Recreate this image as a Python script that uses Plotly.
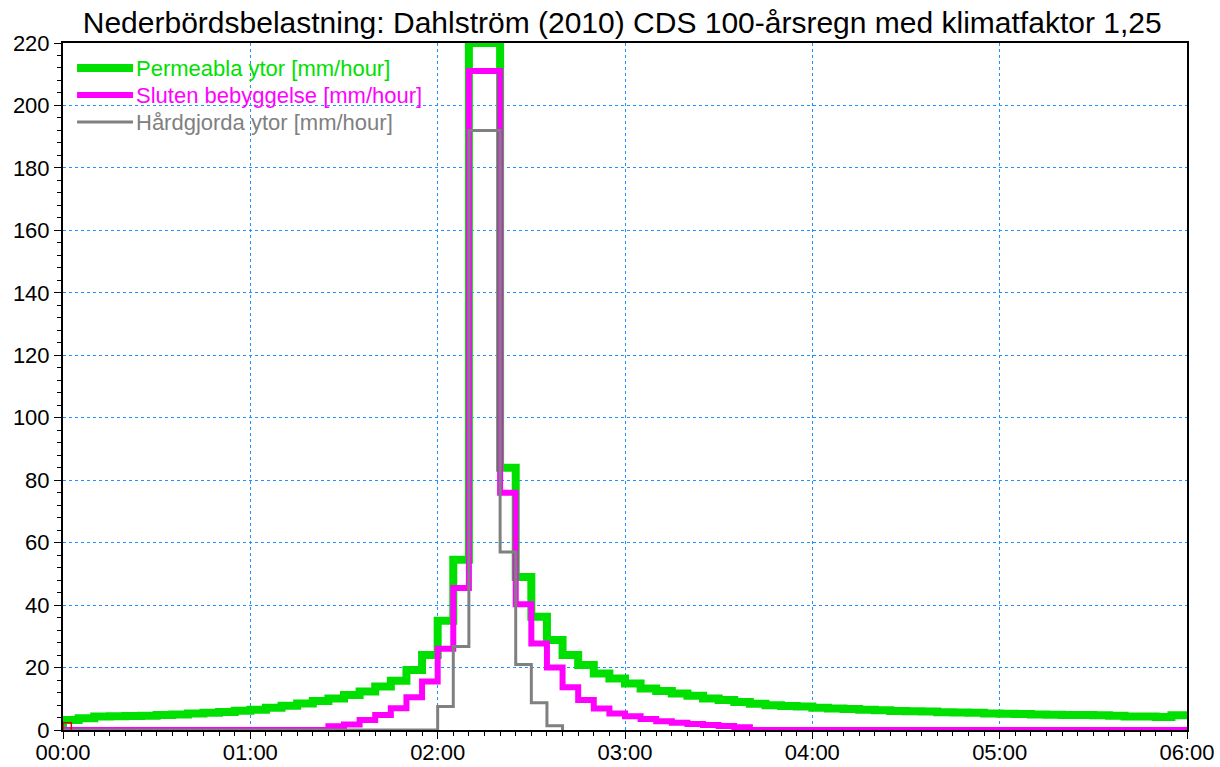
import pandas as pd
import plotly.graph_objects as go

title = "Nederbördsbelastning: Dahlström (2010) CDS 100-årsregn med klimatfaktor 1,25"

# 5-minute time steps from 00:00 to 05:55 (values are step intensities, mm/hour)
start = "2010-01-01 00:00"
end = "2010-01-01 06:00"
step_times = list(pd.date_range(start, periods=72, freq="5min"))

permeabla = [
    3.2, 3.8, 4.3, 4.4, 4.5, 4.6, 4.8, 5.0, 5.3, 5.5, 5.8, 6.2,
    6.5, 7.1, 7.8, 8.5, 9.3, 10.1, 11.2, 12.3, 13.9, 15.8, 19.2, 24.0,
    35.0, 54.5, 220.0, 220.0, 84.0, 49.0, 36.3, 28.8, 24.0, 20.8, 18.1, 16.5,
    14.9, 13.3, 12.5, 11.7, 11.0, 10.1, 9.6, 9.0, 8.4, 7.9, 7.7, 7.5,
    7.1, 6.9, 6.7, 6.5, 6.3, 6.1, 6.0, 5.9, 5.7, 5.6, 5.5, 5.3,
    5.2, 5.1, 5.0, 4.9, 4.8, 4.8, 4.7, 4.6, 4.3, 4.3, 4.2, 4.7,
]

sluten = [
    0, 0, 0, 0, 0, 0, 0, 0, 0, 0, 0, 0,
    0, 0, 0, 0, 0, 1.2, 1.8, 3.2, 4.8, 7.0, 10.5, 15.5,
    26.0, 45.5, 211.0, 211.0, 76.0, 40.3, 27.7, 20.0, 13.7, 9.6, 6.9, 5.3,
    4.4, 3.5, 2.8, 2.3, 1.9, 1.6, 1.3, 0.9, 0, 0, 0, 0,
    0, 0, 0, 0, 0, 0, 0, 0, 0, 0, 0, 0,
    0, 0, 0, 0, 0, 0, 0, 0, 0, 0, 0, 0,
]

hardgjorda = [
    0, 0, 0, 0, 0, 0, 0, 0, 0, 0, 0, 0,
    0, 0, 0, 0, 0, 0, 0, 0, 0, 0, 0, 0,
    7.5, 26.7, 192.0, 192.0, 57.0, 21.0, 8.7, 1.4, 0,
]

# small red series at the start
red_times = ["2010-01-01 00:00:00", "2010-01-01 00:00:00", "2010-01-01 00:02:40"]
red_values = [0, 2.3, 0]

names = ["Permeabla ytor [mm/hour]", "Sluten bebyggelse [mm/hour]", "Hårdgjorda ytor [mm/hour]"]
colors = ["#00E000", "#FF00FF", "#808080"]
widths = [8, 6, 3]

fig = go.Figure()

def step_xy(values, close_end):
    xs = list(step_times[:len(values)])
    ys = list(values)
    xs = [xs[0]] + xs
    ys = [0] + ys
    if close_end:
        xs.append(pd.Timestamp(end))
        ys.append(values[-1])
    return xs, ys

series = [permeabla, sluten, hardgjorda]
for vals, name, col, w, close in zip(series, names, colors, widths, [True, True, False]):
    xs, ys = step_xy(vals, close)
    fig.add_trace(go.Scatter(
        x=xs, y=ys, mode="lines", line=dict(color=col, width=w, shape="hv"),
        name=name, showlegend=False, cliponaxis=False,
    ))

fig.add_trace(go.Scatter(
    x=red_times, y=red_values, mode="lines", line=dict(color="#E00000", width=1.5, shape="hv"),
    showlegend=False, cliponaxis=False,
))

# manual legend (plot-area fractions)
legend_rows_y = [0.9636, 0.9243, 0.885]
for name, col, w, ly in zip(names, colors, widths, legend_rows_y):
    fig.add_shape(type="line", xref="paper", yref="paper", x0=0.0125, x1=0.0623, y0=ly, y1=ly,
                  line=dict(color=col, width=w))
    fig.add_annotation(xref="paper", yref="paper", x=0.0635, y=ly, xanchor="left", yanchor="middle",
                       text=name, showarrow=False, font=dict(size=22, color=col))

grid = dict(showgrid=True, gridcolor="#1E90FF", gridwidth=1, griddash="3px,3px")
font_family = "Liberation Sans, Arial, sans-serif"

fig.update_layout(
    width=1220, height=767,
    margin=dict(l=63, r=33, t=43, b=37, autoexpand=False),
    paper_bgcolor="white", plot_bgcolor="white",
    font=dict(family=font_family, size=22, color="black"),
    title=dict(text=title, x=0.51, xanchor="center", y=0.985, yanchor="top",
               font=dict(size=30, color="black")),
    showlegend=False,
)

fig.update_xaxes(
    type="date", range=[start, end], dtick=3600000, tickformat="%H:%M", automargin=False,
    showline=True, linecolor="black", linewidth=2, mirror=True,
    ticks="outside", ticklen=7, tickcolor="black", tickwidth=1, ticklabelstandoff=-5,
    minor=dict(dtick=300000, ticks="outside", ticklen=4, tickcolor="black", showgrid=False),
    zeroline=False, tickfont=dict(size=22, color="black"), **grid,
)
fig.update_yaxes(
    range=[0, 220], dtick=20, tick0=0, automargin=False,
    showline=True, linecolor="black", linewidth=2, mirror=True,
    ticks="outside", ticklen=7, tickcolor="black", tickwidth=1,
    minor=dict(dtick=4, ticks="outside", ticklen=4, tickcolor="black", showgrid=False),
    zeroline=False, tickfont=dict(size=22, color="black"), **grid,
)

fig.write_html(
    "out.html",
    config={"displayModeBar": False},
    post_script="document.body.style.margin='0';document.body.style.overflow='hidden';",
)
